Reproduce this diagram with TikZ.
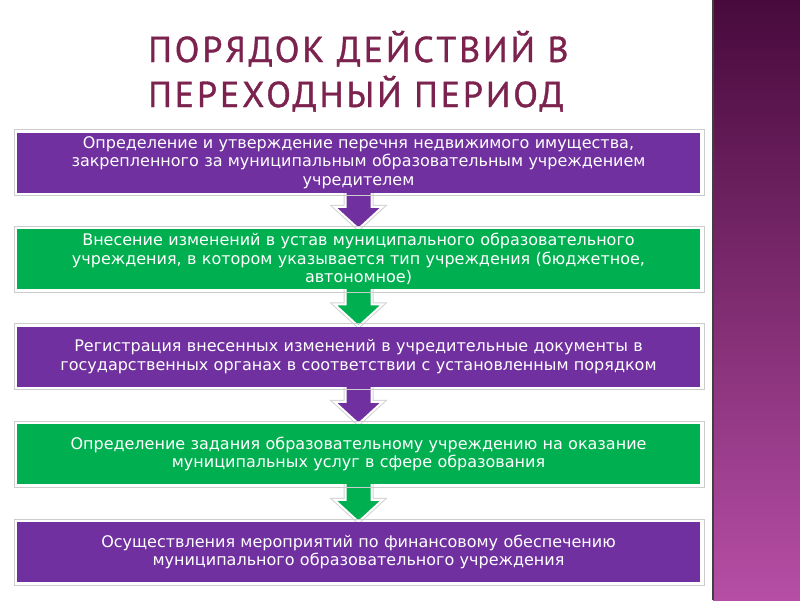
\documentclass[tikz,border=0pt]{standalone}
\usepackage{fontspec}
\setmainfont{DejaVu Sans}
\newfontfamily\titlefont[LetterSpace=8,FakeBold=1]{PT Sans}
\usetikzlibrary{calc,backgrounds}
\definecolor{tMaroon}{RGB}{124,34,78}
\definecolor{bPurple}{RGB}{112,48,160}
\definecolor{bGreen}{RGB}{0,176,80}
\definecolor{pTop}{RGB}{72,10,60}
\definecolor{pBot}{RGB}{182,78,166}
\newcommand{\stepbox}[4]{%
  \node[stp,fill=#3] (#1) at (#2) {#4};
  \draw[frm] ([xshift=-3pt,yshift=3pt]#1.north west) rectangle ([xshift=4pt,yshift=-3pt]#1.south east);}
\newcommand{\blockarr}[3]{%
  \draw[arw,draw=gray!35,line width=4pt] ($(#1.south)+(-13,0)$) -- ($(#2.north)+(-13,-22)$) -- ($(#2.north)+(-24,-22)$) -- (#2.north)
     -- ($(#2.north)+(24,-22)$) -- ($(#2.north)+(13,-22)$) -- ($(#1.south)+(13,0)$);
  \filldraw[arw,fill=#3,draw=white,line width=2pt] ($(#1.south)+(-13,0)$) -- ($(#2.north)+(-13,-22)$) -- ($(#2.north)+(-24,-22)$) -- (#2.north)
     -- ($(#2.north)+(24,-22)$) -- ($(#2.north)+(13,-22)$) -- ($(#1.south)+(13,0)$);}

\begin{document}
\begin{tikzpicture}[x=1pt,y=-1pt,
  stp/.style={minimum width=683pt,minimum height=60pt,text width=670pt,align=center,inner sep=0pt,
              text=white,font=\fontsize{16}{18.5}\selectfont},
  frm/.style={draw=gray!40,line width=0.6pt},
  arw/.style={line join=miter},
  ttl/.style={anchor=base west,inner sep=0pt,text=tMaroon,font=\titlefont\fontsize{36}{40}\selectfont}]
\useasboundingbox (0,0) rectangle (800,600);
% ---- side panel
\shade[top color=pTop,bottom color=pBot] (713,0) rectangle (800,600);
\draw[black!75,line width=1.2pt] (713,0) -- (713,600);
% ---- title
\node[ttl] (title1) at (148,62)  {ПОРЯДОК ДЕЙСТВИЙ В};
\node[ttl] (title2) at (148,107) {ПЕРЕХОДНЫЙ ПЕРИОД};
% ---- steps
\stepbox{s1}{358.5,162.5}{bPurple}{Определение и утверждение перечня недвижимого имущества,\\закрепленного за муниципальным образовательным учреждением\\учредителем}
\stepbox{s2}{358.5,259}{bGreen}{Внесение изменений в устав муниципального образовательного\\учреждения, в котором указывается тип учреждения (бюджетное,\\автономное)}
\stepbox{s3}{358.5,356.5}{bPurple}{Регистрация внесенных изменений в учредительные документы в\\государственных органах в соответствии с установленным порядком}
\stepbox{s4}{358.5,454}{bGreen}{Определение задания образовательному учреждению на оказание\\муниципальных услуг в сфере образования}
\stepbox{s5}{358.5,552}{bPurple}{Осуществления мероприятий по финансовому обеспечению\\муниципального образовательного учреждения}
% ---- arrows
\begin{pgfonlayer}{background}
\blockarr{s1}{s2}{bPurple}
\blockarr{s2}{s3}{bGreen}
\blockarr{s3}{s4}{bPurple}
\blockarr{s4}{s5}{bGreen}
\end{pgfonlayer}
\end{tikzpicture}
\end{document}
